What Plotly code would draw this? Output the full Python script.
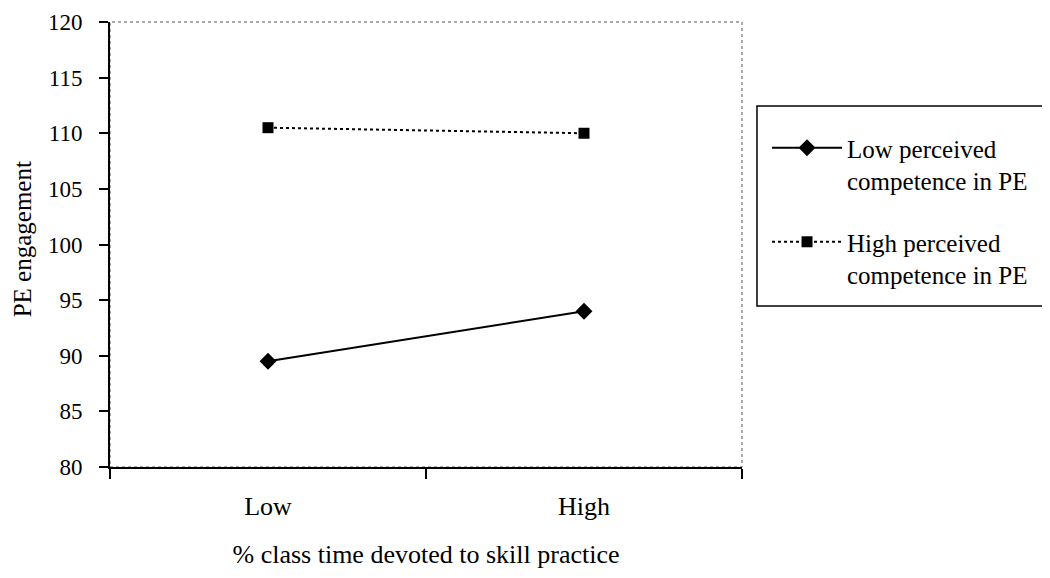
import plotly.graph_objects as go

categories = ['Low', 'High']
low_competence = [89.5, 94.0]
high_competence = [110.5, 110.0]
series_names = ['Low perceived<br>competence in PE', 'High perceived<br>competence in PE']

FONT = 'Liberation Serif, Times New Roman, serif'

fig = go.Figure()

fig.add_trace(go.Scatter(
    x=categories, y=low_competence, name=series_names[0], legendgroup='low',
    mode='lines+markers',
    line=dict(color='black', width=2),
    marker=dict(symbol='diamond', size=13, color='black'),
))

fig.add_trace(go.Scatter(
    x=categories, y=high_competence, name=series_names[1], legendgroup='high',
    mode='lines+markers',
    line=dict(color='black', width=2, dash='dot'),
    marker=dict(symbol='square', size=11, color='black'),
))

# thin dotted frame around the plot area (top and right edges)
fig.add_shape(type='rect', xref='x domain', yref='y domain', x0=0, x1=1, y0=0, y1=1,
              line=dict(color='#555555', width=1, dash='dot'), layer='below')
# legend box
fig.add_shape(type='rect', xref='paper', yref='paper', x0=1.0237, x1=1.4763, y0=0.3618, y1=0.8112,
              line=dict(color='black', width=1.5))

# y-axis title placed as annotation for precise position
fig.add_annotation(text='PE engagement', xref='paper', yref='paper', x=-0.139, y=0.512,
                   textangle=-90, showarrow=False, xanchor='center', yanchor='middle',
                   font=dict(family=FONT, size=25, color='black'))

fig.update_layout(
    width=1042, height=570,
    margin=dict(l=102, r=308, t=14, b=111),
    paper_bgcolor='white', plot_bgcolor='white',
    font=dict(family=FONT, size=21, color='black'),
    showlegend=True,
    legend=dict(
        x=1.0396, y=0.7685, xanchor='left', yanchor='top',
        borderwidth=0,
        font=dict(family=FONT, size=25, color='black'),
        itemwidth=70, valign='top', traceorder='grouped', tracegroupgap=26,
        bgcolor='rgba(0,0,0,0)',
    ),
)

fig.update_xaxes(
    type='category', range=[-0.5, 1.5], automargin=False,
    showline=True, linecolor='black', linewidth=2,
    ticks='outside', ticklen=10, tickwidth=2, tickcolor='black',
    tickson='boundaries', showgrid=False, zeroline=False,
    ticklabelstandoff=15,
    tickfont=dict(family=FONT, size=26),
    title=dict(text='% class time devoted to skill practice', standoff=25,
               font=dict(family=FONT, size=26)),
)

fig.update_yaxes(
    range=[80, 120], dtick=5, automargin=False,
    showline=True, linecolor='black', linewidth=2,
    ticks='outside', ticklen=9, tickwidth=1.5, tickcolor='black',
    showgrid=False, zeroline=False,
    ticklabelstandoff=12, ticklabeloverflow='allow',
    tickfont=dict(family=FONT, size=23),
)

fig.write_html('out.html')
